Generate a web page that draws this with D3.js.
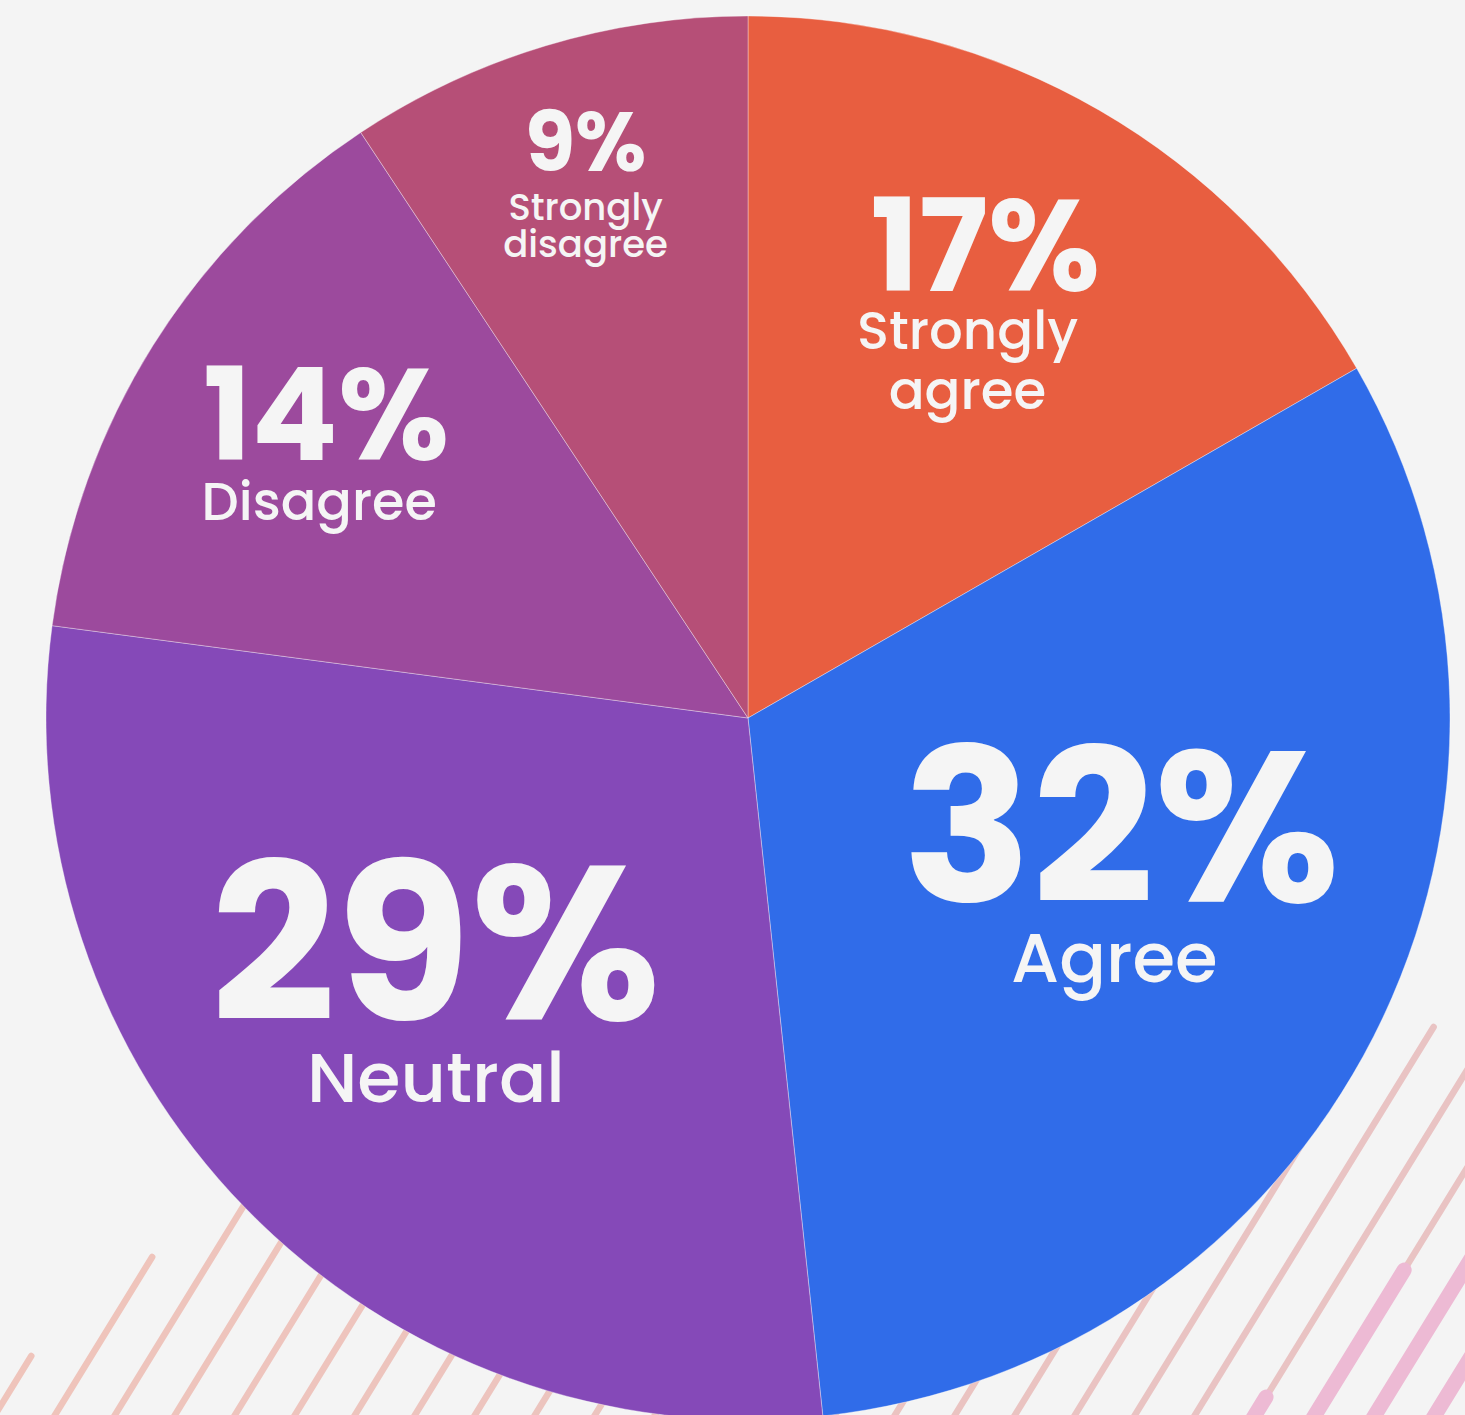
<!DOCTYPE html>
<html>
<head>
<meta charset="utf-8">
<script src="https://cdn.jsdelivr.net/npm/d3@7"></script>
<style>
  html, body { margin: 0; padding: 0; background: #F4F4F4; }
  svg { display: block; }
</style>
</head>
<body>
<div id="chart"></div>
<script>
// ---- data ----
const categories = ["Strongly agree", "Agree", "Neutral", "Disagree", "Strongly disagree"];
const shares = [16.7, 31.6, 28.8, 13.6, 9.3];
const shareLabels = ["17%", "32%", "29%", "14%", "9%"];
const sliceColors = ["#E85E40", "#306CE9", "#8549B8", "#9C4A9D", "#B64F77"];

// ---- layout (styles / positions, not data) ----
const W = 1465, H = 1415;
const cx = 748, cy = 718, R = 702;
const labelRadius = [488, 419, 436, 494, 571];
const labelDy = [-5, -6, -2, 4, 0];
const pctSize = [129, 214, 219, 128, 82];
const pctDx = [-7, 0, 0, -3, 2];
const nameSize = [53, 69, 70, 52.5, 37];
const nameFirst = [58, 80, 82, 60, 49];
const nameGap = [60, 0, 0, 0, 37];
const nameDx = [-25, -7, 0, -10, 2];
const textColor = "#F5F5F5";
const fontStack = "Poppins, Inter, 'Noto Sans', sans-serif";

const svg = d3.select("#chart").append("svg")
  .attr("width", W).attr("height", H)
  .attr("viewBox", `0 0 ${W} ${H}`);

svg.append("rect").attr("width", W).attr("height", H).attr("fill", "#F4F4F4");

// ---- decorative diagonal hatching (background) ----
const deco = svg.append("g").attr("class", "deco");
const nLines = 25, spacing = 60, x0 = -5, slope = 0.615, yBottom = 1430;
const topY = k => k === 0 ? 1356 : k === 1 ? 1257 : k === 20 ? 1027 : k >= 21 ? 800 : 1060;
const thickFrom = k => k === 21 ? 1397 : k === 22 ? 1270 : k >= 23 ? 800 : null;
const xAt = (k, y) => x0 + spacing * k + slope * (1415 - y);
const thinColor = d3.interpolateRgb("#EFC4BB", "#E8C3C4");
d3.range(nLines).forEach(k => {
  deco.append("line")
    .attr("x1", xAt(k, topY(k))).attr("y1", topY(k))
    .attr("x2", xAt(k, yBottom)).attr("y2", yBottom)
    .attr("stroke", thinColor(k / (nLines - 1)))
    .attr("stroke-width", 6.5)
    .attr("stroke-linecap", "round");
  const tf = thickFrom(k);
  if (tf !== null) {
    deco.append("line")
      .attr("x1", xAt(k, tf)).attr("y1", tf)
      .attr("x2", xAt(k, yBottom)).attr("y2", yBottom)
      .attr("stroke", "#EDBAD4")
      .attr("stroke-width", 15)
      .attr("stroke-linecap", "round");
  }
});

// ---- pie ----
const pie = d3.pie().sort(null).value(d => d.value).startAngle(0).endAngle(2 * Math.PI);
const data = categories.map((c, i) => ({ name: c, value: shares[i], label: shareLabels[i], color: sliceColors[i], i }));
const arcs = pie(data);
const arc = d3.arc().innerRadius(0).outerRadius(R);

const g = svg.append("g").attr("transform", `translate(${cx},${cy})`);
g.selectAll("path.slice").data(arcs).join("path")
  .attr("class", "slice")
  .attr("d", arc)
  .attr("fill", d => d.data.color)
  .attr("stroke", "rgba(255,255,255,0.35)")
  .attr("stroke-width", 1);

// ---- labels ----
const labels = g.selectAll("g.lab").data(arcs).join("g")
  .attr("class", "lab")
  .attr("transform", d => {
    const mid = (d.startAngle + d.endAngle) / 2;
    const [x, y] = d3.pointRadial(mid, labelRadius[d.data.i]);
    return `translate(${x},${y + labelDy[d.data.i]})`;
  });

labels.append("text")
  .attr("text-anchor", "middle")
  .attr("x", d => pctDx[d.data.i]).attr("y", 0)
  .attr("font-family", fontStack)
  .attr("font-weight", 700)
  .attr("font-size", d => pctSize[d.data.i])
  .attr("fill", textColor)
  .text(d => d.data.label);

labels.each(function(d) {
  const i = d.data.i;
  const words = d.data.name.split(" ");
  words.forEach((w, j) => {
    d3.select(this).append("text")
      .attr("text-anchor", "middle")
      .attr("x", nameDx[i])
      .attr("y", nameFirst[i] + j * nameGap[i])
      .attr("font-family", fontStack)
      .attr("font-weight", 500)
      .attr("font-size", nameSize[i])
      .attr("fill", textColor)
      .text(w);
  });
});
</script>
</body>
</html>
